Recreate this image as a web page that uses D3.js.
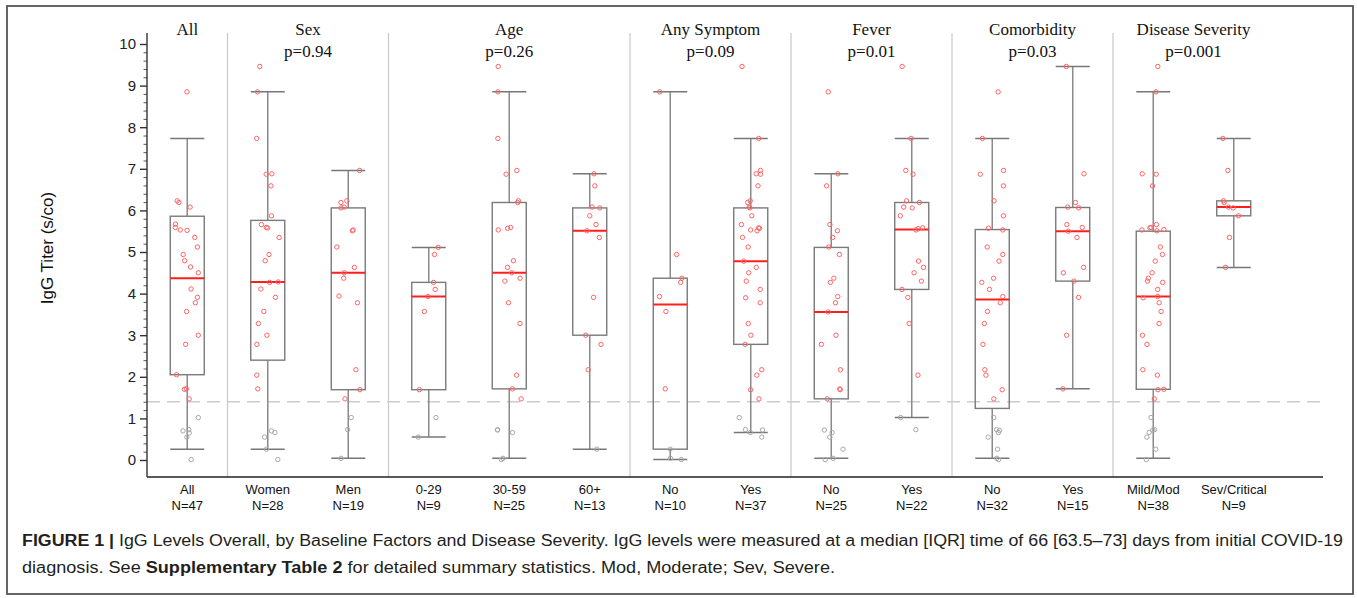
<!DOCTYPE html>
<html><head><meta charset="utf-8">
<script src="https://cdn.jsdelivr.net/npm/d3@7"></script>
<style>body{margin:0;background:#fff}svg{display:block}</style>
</head><body>
<svg id="chart" width="1357" height="598"></svg>
<script>
// ---- data ----
const categories = ["All","Women","Men","0-29","30-59","60+","No","Yes","No ","Yes ","No  ","Yes  ","Mild/Mod","Sev/Critical"];
const catLabels = ["All","Women","Men","0-29","30-59","60+","No","Yes","No","Yes","No","Yes","Mild/Mod","Sev/Critical"];
const catN = [47,28,19,9,25,13,10,37,25,22,32,15,38,9];
const groupNames = ["All","Sex","Age","Any Symptom","Fever","Comorbidity","Disease Severity"];
const groupP = ["","p=0.94","p=0.26","p=0.09","p=0.01","p=0.03","p=0.001"];
const groupSizes = [1,2,3,2,2,2,2];
// box stats: [whiskerLow, q1, median, q3, whiskerHigh]
const boxStats = [
  [0.26,2.05,4.37,5.86,7.73],
  [0.26,2.40,4.28,5.76,8.85],
  [0.04,1.69,4.50,6.06,6.96],
  [0.55,1.69,3.93,4.27,5.11],
  [0.04,1.71,4.50,6.19,8.85],
  [0.26,3.00,5.51,6.06,6.88],
  [0.01,0.26,3.74,4.37,8.85],
  [0.66,2.78,4.78,6.06,7.73],
  [0.04,1.47,3.56,5.11,6.88],
  [1.02,4.10,5.54,6.19,7.73],
  [0.04,1.24,3.86,5.54,7.73],
  [1.71,4.30,5.50,6.07,9.46],
  [0.04,1.70,3.93,5.50,8.85],
  [4.63,5.87,6.08,6.23,7.73]
];
const ptsAll = [8.85,6.23,6.19,6.08,5.67,5.59,5.53,5.52,5.35,5.12,4.94,4.79,4.64,4.50,4.11,3.91,3.78,3.57,3.00,2.78,2.05,1.70,1.71,1.47,1.02,0.73,0.70,0.65,0.55,0.01];
const ptsWomen = [9.46,8.85,7.73,6.88,6.87,6.59,5.87,5.66,5.59,5.58,5.35,4.94,4.79,4.28,4.27,4.11,3.91,3.57,3.28,3.00,2.78,2.04,1.71,0.70,0.66,0.55,0.26,0.01];
const ptsMen = [6.96,6.23,6.19,6.08,6.06,5.53,5.51,5.12,4.63,4.50,4.37,3.94,3.78,2.17,1.69,1.47,1.02,0.73,0.04];
const ptsAge0 = [5.11,4.94,4.27,4.10,3.93,3.57,1.69,1.02,0.55];
const ptsAge30 = [9.46,8.85,7.73,6.96,6.87,6.23,6.19,5.59,5.53,5.57,4.79,4.63,4.50,4.37,4.30,3.78,3.28,2.04,1.71,1.47,0.73,0.72,0.66,0.04,0.01];
const ptsAge60 = [6.88,6.59,6.08,6.06,5.87,5.66,5.51,5.35,3.91,3.00,2.78,2.17,0.26];
const ptsSymNo = [8.85,4.94,4.37,4.27,3.93,3.57,1.71,0.26,0.01,0.04];
const ptsSymYes = [9.46,7.73,6.96,6.88,6.87,6.59,6.23,6.19,6.08,6.06,5.87,5.66,5.58,5.57,5.53,5.51,5.35,5.12,4.78,4.63,4.50,4.30,4.10,3.90,3.78,3.28,3.00,2.78,2.17,2.04,1.69,1.47,1.02,0.73,0.72,0.66,0.55];
const ptsFevNo = [8.85,6.88,6.59,5.66,5.51,5.35,5.12,4.94,4.37,4.27,3.93,3.78,3.56,3.00,2.78,2.17,1.71,1.69,1.47,0.72,0.66,0.55,0.26,0.04,0.01];
const ptsFevYes = [9.46,7.73,6.96,6.87,6.23,6.19,6.08,6.06,5.87,5.58,5.53,5.56,4.78,4.63,4.50,4.30,4.10,3.91,3.28,2.04,1.02,0.73];
const ptsComNo = [8.85,7.73,6.96,6.87,6.59,6.23,5.87,5.57,5.53,5.12,4.94,4.78,4.37,4.27,4.10,3.93,3.78,3.57,3.28,2.78,2.17,2.04,1.69,1.47,1.02,0.73,0.66,0.71,0.55,0.26,0.04,0.01];
const ptsComYes = [9.46,6.88,6.19,6.08,6.06,5.66,5.59,5.50,5.35,4.63,4.50,4.30,3.91,3.00,1.71];
const ptsMild = [9.46,8.85,6.88,6.87,6.59,5.66,5.59,5.58,5.54,5.53,5.51,5.12,4.94,4.78,4.50,4.37,4.30,4.27,4.10,3.93,3.90,3.78,3.57,3.28,3.00,2.78,2.17,2.04,1.70,1.69,1.47,1.02,0.73,0.72,0.66,0.55,0.26,0.01];
const ptsSev = [7.73,6.96,6.23,6.19,6.08,6.06,5.87,5.35,4.63];
const points = [ptsAll,ptsWomen,ptsMen,ptsAge0,ptsAge30,ptsAge60,ptsSymNo,ptsSymYes,ptsFevNo,ptsFevYes,ptsComNo,ptsComYes,ptsMild,ptsSev];
const cutoff = 1.4;
const yTicks = [0,1,2,3,4,5,6,7,8,9,10];

// ---- layout ----
const svg = d3.select("#chart");
const left = 147, step = 80.5, plotRight = 1323, yTop = 33, yBottom = 477;
const x = d3.scaleBand().domain(categories).range([left, left + step*categories.length]).paddingInner(0.58).paddingOuter(0.29);
const y = d3.scaleLinear().domain([0,10]).range([460, 44]);
const boxW = 34;
const cx = c => x(c) + x.bandwidth()/2;

// outer frame
svg.append("rect").attr("x",7).attr("y",6).attr("width",1346).attr("height",588)
  .attr("fill","none").attr("stroke","#555").attr("stroke-width",1.8);

// group separators + titles
let idx = 0;
groupSizes.forEach((n,g) => {
  const first = categories[idx], last = categories[idx+n-1];
  const x0 = (g===0) ? left : cx(first) - step/2;
  const x1 = cx(last) + step/2;
  if (g>0) svg.append("line").attr("x1",x0).attr("x2",x0).attr("y1",yTop).attr("y2",yBottom)
      .attr("stroke","#c8c8c8").attr("stroke-width",1.2);
  const mid = (x0+x1)/2;
  svg.append("text").attr("x",mid).attr("y",35).attr("text-anchor","middle")
    .attr("font-family","'Liberation Serif','Times New Roman',serif").attr("font-size",17).attr("fill","#111").text(groupNames[g]);
  if (groupP[g]) svg.append("text").attr("x",mid).attr("y",57).attr("text-anchor","middle")
    .attr("font-family","'Liberation Serif','Times New Roman',serif").attr("font-size",17).attr("fill","#111").text(groupP[g]);
  idx += n;
});

// cutoff dashed line
svg.append("line").attr("x1",left).attr("x2",plotRight).attr("y1",y(cutoff)).attr("y2",y(cutoff))
  .attr("stroke","#cccccc").attr("stroke-width",1.3).attr("stroke-dasharray","13,7");

// y axis
const yAxis = d3.axisLeft(y).tickValues(yTicks).tickSize(7).tickPadding(4).tickFormat(d3.format("d"));
const ga = svg.append("g").attr("transform",`translate(${left},0)`).call(yAxis);
ga.select(".domain").remove();
ga.selectAll(".tick line").attr("stroke","#333").attr("stroke-width",1.4);
ga.selectAll(".tick text").attr("font-family","'Liberation Sans',Arial,sans-serif").attr("font-size",15).attr("fill","#222");
const minor = d3.range(0,10.01,0.2).filter(v => Math.abs(v - Math.round(v)) > 0.01);
const gm = svg.append("g").attr("transform",`translate(${left},0)`).call(d3.axisLeft(y).tickValues(minor).tickSize(3.5).tickFormat(""));
gm.select(".domain").remove();
gm.selectAll(".tick line").attr("stroke","#555").attr("stroke-width",1);
svg.append("line").attr("x1",left).attr("x2",left).attr("y1",yTop).attr("y2",yBottom).attr("stroke","#333").attr("stroke-width",1.4);

// x axis line + labels
svg.append("line").attr("x1",left).attr("x2",plotRight).attr("y1",yBottom).attr("y2",yBottom).attr("stroke","#222").attr("stroke-width",1.6);
const xl = svg.append("g");
categories.forEach((c,i) => {
  const t = xl.append("text").attr("x",cx(c)).attr("text-anchor","middle")
    .attr("font-family","'Liberation Sans',Arial,sans-serif").attr("font-size",13).attr("fill","#111");
  t.append("tspan").attr("x",cx(c)).attr("y",494).text(catLabels[i]);
  t.append("tspan").attr("x",cx(c)).attr("y",510).text("N=" + catN[i]);
});

// y axis title
svg.append("text").attr("transform","translate(53,248) rotate(-90)").attr("text-anchor","middle")
  .attr("font-family","'Liberation Sans',Arial,sans-serif").attr("font-size",17).attr("fill","#111").text("IgG Titer (s/co)");

// boxes
const boxG = svg.append("g");
categories.forEach((c,i) => {
  const [lo,q1,med,q3,hi] = boxStats[i];
  const xc = cx(c);
  const g = boxG.append("g");
  g.append("line").attr("x1",xc).attr("x2",xc).attr("y1",y(hi)).attr("y2",y(q3)).attr("stroke","#8a8a8a").attr("stroke-width",1.5);
  g.append("line").attr("x1",xc).attr("x2",xc).attr("y1",y(q1)).attr("y2",y(lo)).attr("stroke","#8a8a8a").attr("stroke-width",1.5);
  g.append("line").attr("x1",xc-boxW/2).attr("x2",xc+boxW/2).attr("y1",y(hi)).attr("y2",y(hi)).attr("stroke","#777").attr("stroke-width",1.5);
  g.append("line").attr("x1",xc-boxW/2).attr("x2",xc+boxW/2).attr("y1",y(lo)).attr("y2",y(lo)).attr("stroke","#777").attr("stroke-width",1.5);
  g.append("rect").attr("x",xc-boxW/2).attr("y",y(q3)).attr("width",boxW).attr("height",y(q1)-y(q3))
    .attr("fill","none").attr("stroke","#7a7a7a").attr("stroke-width",1.4);
  g.append("line").attr("x1",xc-boxW/2).attr("x2",xc+boxW/2).attr("y1",y(med)).attr("y2",y(med)).attr("stroke","#ff1e1e").attr("stroke-width",2);
});

// points with seeded jitter
const rnd = d3.randomUniform.source(d3.randomLcg(0.37))(-12, 12);
const ptG = svg.append("g");
categories.forEach((c,i) => {
  points[i].forEach(v => {
    ptG.append("circle").attr("cx",cx(c)+rnd()).attr("cy",y(v)).attr("r",2.2)
      .attr("fill","none").attr("stroke", v > cutoff ? "#ff6464" : "#a8a8a8").attr("stroke-width",1);
  });
});

// caption
const cap1 = svg.append("text").attr("x",22).attr("y",546).attr("font-family","'Liberation Sans',Arial,sans-serif")
  .attr("font-size",16).attr("fill","#231f20").attr("textLength",1321).attr("lengthAdjust","spacingAndGlyphs");
cap1.append("tspan").attr("font-weight","bold").text("FIGURE 1 |");
cap1.append("tspan").text(" IgG Levels Overall, by Baseline Factors and Disease Severity. IgG levels were measured at a median [IQR] time of 66 [63.5–73] days from initial COVID-19");
const cap2 = svg.append("text").attr("x",22).attr("y",573).attr("font-family","'Liberation Sans',Arial,sans-serif")
  .attr("font-size",16).attr("fill","#231f20").attr("textLength",813).attr("lengthAdjust","spacingAndGlyphs");
cap2.append("tspan").text("diagnosis. See ");
cap2.append("tspan").attr("font-weight","bold").text("Supplementary Table 2");
cap2.append("tspan").text(" for detailed summary statistics. Mod, Moderate; Sev, Severe.");
</script>
</body></html>
